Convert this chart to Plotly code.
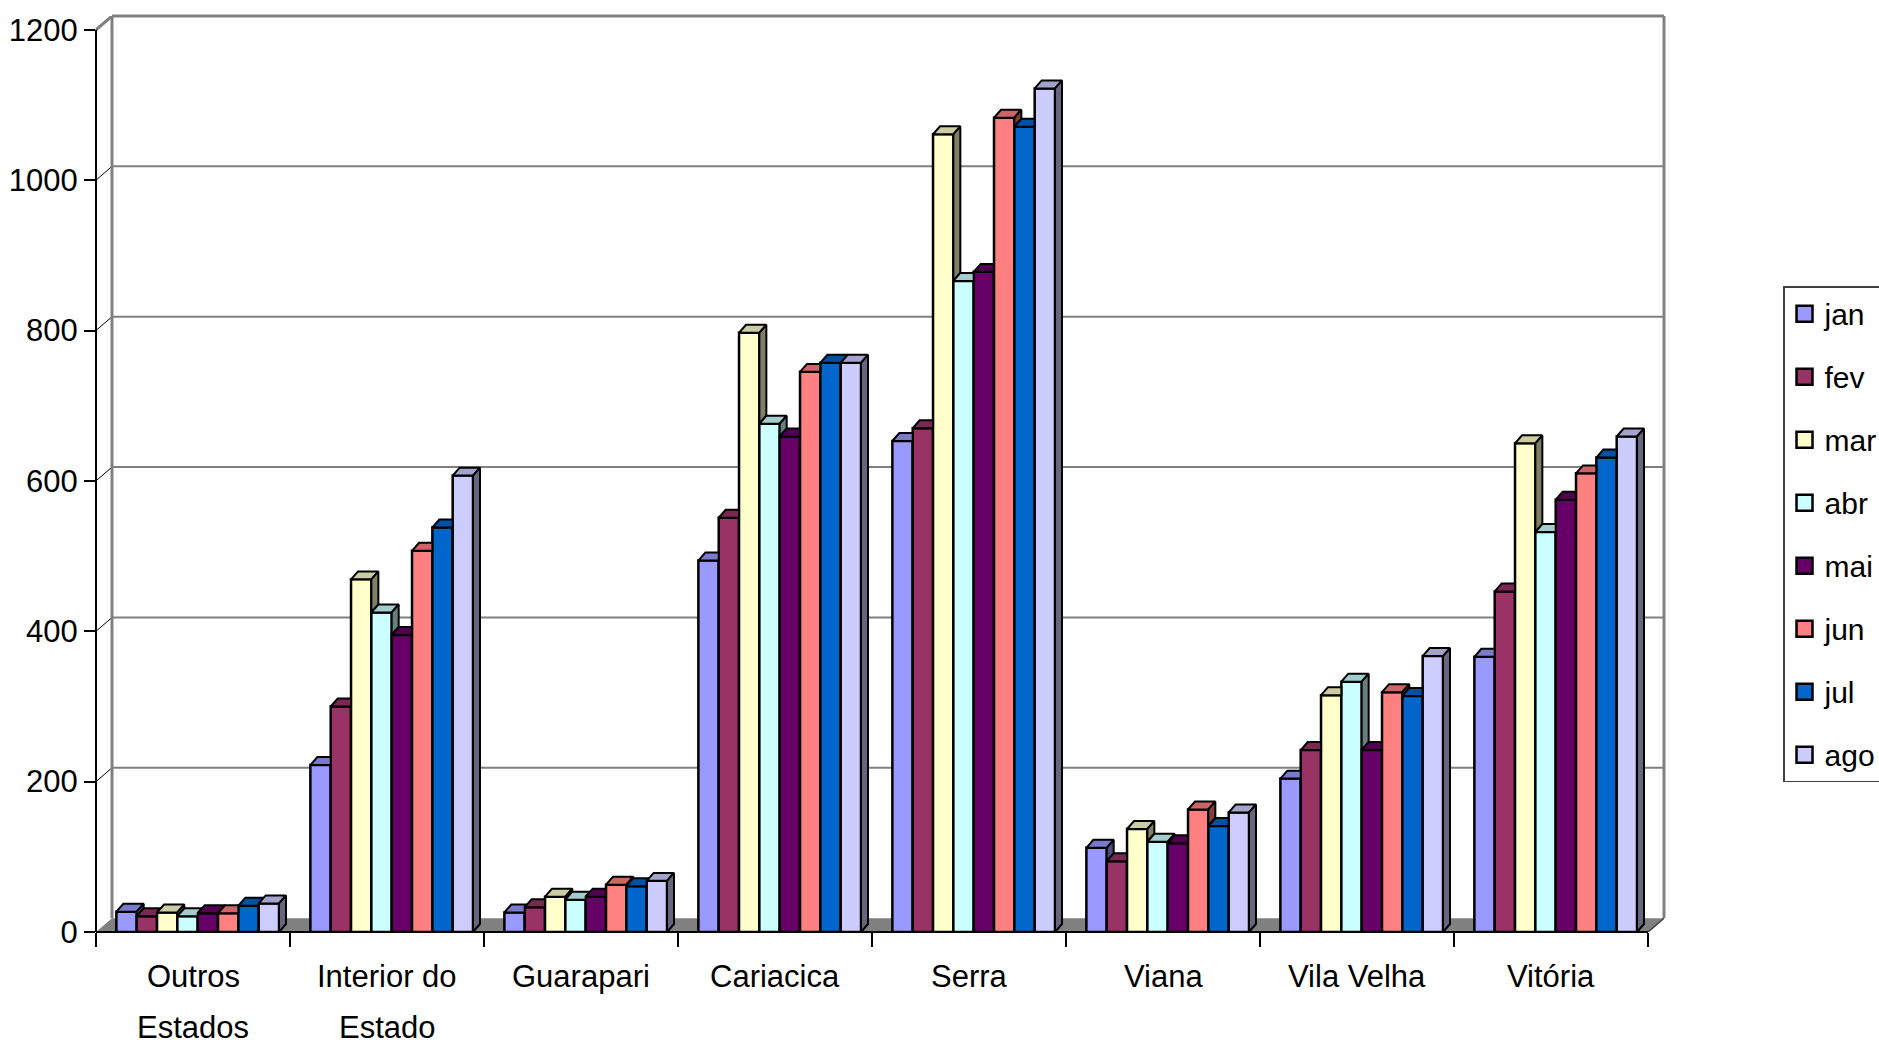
import plotly.graph_objects as go

# ---- data -------------------------------------------------------------
categories = ["Outros<br>Estados", "Interior do<br>Estado", "Guarapari", "Cariacica",
              "Serra", "Viana", "Vila Velha", "Vitória"]
months = ["jan", "fev", "mar", "abr", "mai", "jun", "jul", "ago"]

jan = [27, 222, 26, 494, 653, 112, 204, 366]
fev = [21, 300, 33, 551, 670, 94, 242, 453]
mar = [26, 469, 47, 797, 1061, 137, 315, 650]
abr = [21, 425, 43, 676, 866, 120, 333, 532]
mai = [25, 395, 47, 659, 878, 118, 242, 575]
jun = [25, 507, 63, 745, 1083, 163, 319, 610]
jul = [35, 538, 61, 757, 1071, 141, 314, 631]
ago = [38, 607, 68, 757, 1122, 159, 367, 659]
series = [jan, fev, mar, abr, mai, jun, jul, ago]

y_ticks = [0, 200, 400, 600, 800, 1000, 1200]

# ---- styling ----------------------------------------------------------
colors = ["#9999FF", "#993366", "#FFFFCC", "#CCFFFF",
          "#660066", "#FF8080", "#0066CC", "#CCCCFF"]
FONT = "Liberation Sans, Arial, sans-serif"
GRID = "#808080"

Y_MAX = 1200
FLOOR_DX, FLOOR_DY = 0.0825, 18.3   # depth of the chart box (axis units)
BAR_DX, BAR_DY = 0.036, 10.6        # depth of each column (axis units)
BAR_W = 0.1048                      # width of one column
GROUP_LEFT = -0.395                 # left edge of a group relative to its category
X_LO, X_HI = -0.5, len(categories) - 0.5
LABEL_Y = [-0.049, -0.104]          # paper positions of the category label lines


def shade(hex_color, k):
    r, g, b = (int(hex_color[i:i + 2], 16) for i in (1, 3, 5))
    return "rgb({},{},{})".format(int(r * k), int(g * k), int(b * k))


def column_faces(j):
    """Top and right-side faces of every column of series j, trimmed where
    the neighbouring column hides them."""
    tops_x, tops_y, side_x, side_y = [], [], [], []
    vals = series[j]
    for i, t in enumerate(vals):
        left = i + GROUP_LEFT + j * BAR_W
        right = left + BAR_W
        tn = series[j + 1][i] if j + 1 < len(series) else 0.0
        c = min(max(tn, t), t + BAR_DY)
        px = [left, right, right, right + (t + BAR_DY - c) / BAR_DY * BAR_DX, left + BAR_DX, left]
        py = [t, t, c, t + BAR_DY, t + BAR_DY, t]
        tops_x += px + [None]
        tops_y += py + [None]
        if tn < t:
            side_x += [right, right + BAR_DX, right + BAR_DX, right, right, None]
            side_y += [tn, tn + BAR_DY, t + BAR_DY, t, tn, None]
    return tops_x, tops_y, side_x, side_y


fig = go.Figure()

# front faces of the columns
for j, (m, vals) in enumerate(zip(months, series)):
    fig.add_trace(go.Bar(
        x=list(range(len(categories))), y=vals, name=m, legendgroup=m,
        width=BAR_W, offset=GROUP_LEFT + j * BAR_W,
        marker=dict(color=colors[j], line=dict(color="black", width=2.5)),
        showlegend=False, hoverinfo="skip",
    ))

# top and side faces
for j in range(len(series)):
    tx, ty, sx, sy = column_faces(j)
    fig.add_trace(go.Scatter(x=tx, y=ty, mode="lines", fill="toself",
                             fillcolor=shade(colors[j], 0.8),
                             line=dict(color="black", width=2),
                             showlegend=False, hoverinfo="skip"))
    if sx:
        fig.add_trace(go.Scatter(x=sx, y=sy, mode="lines", fill="toself",
                                 fillcolor=shade(colors[j], 0.5),
                                 line=dict(color="black", width=2),
                                 showlegend=False, hoverinfo="skip"))

# legend keys: larger outlined squares than the default bar swatch
for j, m in enumerate(months):
    fig.add_trace(go.Scatter(x=[None], y=[None], mode="markers", name=m, legendgroup=m,
                             marker=dict(symbol="square", size=16, color=colors[j],
                                         line=dict(color="black", width=2.5)),
                             hoverinfo="skip"))

# ---- box: floor, back wall, side wall ---------------------------------
shapes = []
shapes.append(dict(type="path", xref="x", yref="y", layer="below",
                   path="M{},{} L{},{} L{},{} L{},{} Z".format(
                       X_LO, 0, X_HI, 0, X_HI + FLOOR_DX, FLOOR_DY, X_LO + FLOOR_DX, FLOOR_DY),
                   fillcolor=GRID, line=dict(width=0)))
for v in y_ticks[1:-1]:
    shapes.append(dict(type="line", xref="x", yref="y", layer="below",
                       x0=X_LO + FLOOR_DX, x1=X_HI + FLOOR_DX, y0=v + FLOOR_DY, y1=v + FLOOR_DY,
                       line=dict(color=GRID, width=2)))
    shapes.append(dict(type="line", xref="x", yref="y", layer="below",
                       x0=X_LO, x1=X_LO + FLOOR_DX, y0=v, y1=v + FLOOR_DY,
                       line=dict(color="black", width=1)))
# back wall outline
shapes.append(dict(type="line", xref="x", yref="paper", layer="below",
                   x0=X_LO + FLOOR_DX, x1=X_HI + FLOOR_DX, y0=1, y1=1,
                   line=dict(color=GRID, width=3)))
shapes.append(dict(type="line", xref="x", yref="y", layer="below",
                   x0=X_LO + FLOOR_DX, x1=X_LO + FLOOR_DX, y0=FLOOR_DY, y1=Y_MAX + FLOOR_DY,
                   line=dict(color=GRID, width=3)))
shapes.append(dict(type="line", xref="paper", yref="y", layer="below",
                   x0=1, x1=1, y0=FLOOR_DY, y1=Y_MAX + FLOOR_DY,
                   line=dict(color=GRID, width=3)))
shapes.append(dict(type="line", xref="x", yref="y", layer="below",
                   x0=X_LO, x1=X_LO + FLOOR_DX, y0=Y_MAX, y1=Y_MAX + FLOOR_DY,
                   line=dict(color=GRID, width=3)))
shapes.append(dict(type="line", xref="x", yref="y", layer="above",
                   x0=X_HI, x1=X_HI + FLOOR_DX, y0=0, y1=FLOOR_DY,
                   line=dict(color="#404040", width=1.5)))
# front axes
shapes.append(dict(type="line", xref="paper", yref="y", layer="above",
                   x0=0, x1=0, y0=0, y1=Y_MAX, line=dict(color="black", width=2)))
shapes.append(dict(type="line", xref="x", yref="paper", layer="above",
                   x0=X_LO, x1=X_HI, y0=0, y1=0, line=dict(color="black", width=2)))

# category labels, one annotation per text line
annotations = []
for i, label in enumerate(categories):
    for k, line in enumerate(label.split("<br>")):
        annotations.append(dict(x=i, y=LABEL_Y[k], xref="x", yref="paper",
                                text=line, showarrow=False,
                                xanchor="center", yanchor="middle",
                                font=dict(family=FONT, size=31, color="black")))

fig.update_layout(
    width=1879, height=1044,
    margin=dict(l=96, r=215, t=16, b=112, autoexpand=False),
    paper_bgcolor="white", plot_bgcolor="white",
    barmode="overlay",
    font=dict(family=FONT, size=31, color="black"),
    shapes=shapes,
    annotations=annotations,
    showlegend=True,
    legend=dict(x=1.0759, xanchor="left", y=0.705, yanchor="top",
                bordercolor="#404040", borderwidth=1.5,
                font=dict(family=FONT, size=30, color="black"),
                tracegroupgap=21, traceorder="grouped", itemwidth=30),
    xaxis=dict(range=[X_LO, X_HI + FLOOR_DX], tickmode="array",
               tickvals=list(range(len(categories))), ticktext=categories,
               showticklabels=False,
               ticks="", showgrid=False, zeroline=False, showline=False,
               minor=dict(ticks="outside", ticklen=14, tickwidth=1.5, tickcolor="black",
                          tickmode="array", tickvals=[k - 0.5 for k in range(len(categories) + 1)],
                          showgrid=False)),
    yaxis=dict(range=[0, Y_MAX + FLOOR_DY], tickmode="array", tickvals=y_ticks,
               ticks="outside", ticklen=11, tickwidth=1.5, tickcolor="black",
               showgrid=False, zeroline=False, showline=False),
)

fig.write_html("out.html")
